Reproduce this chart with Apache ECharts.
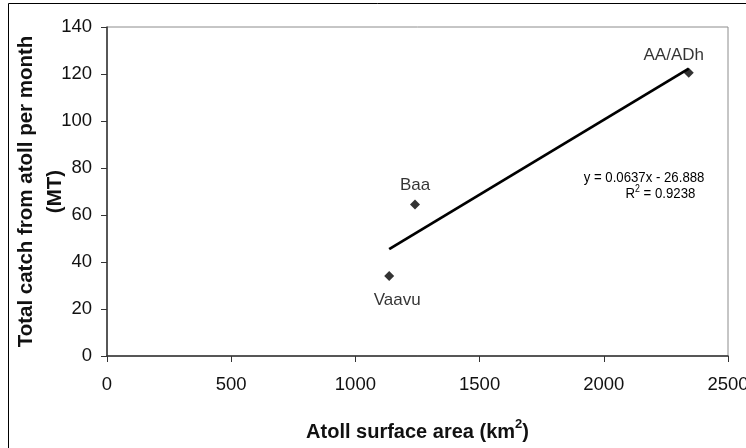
<!DOCTYPE html>
<html>
<head>
<meta charset="utf-8">
<script src="https://cdn.jsdelivr.net/npm/echarts@6/dist/echarts.min.js"></script>
<style>
  html, body { margin: 0; padding: 0; background: #fff; }
  #chart { width: 746px; height: 448px; }
</style>
</head>
<body>
<div id="chart"></div>
<script>
// Atoll surface area (km²) vs. total monthly catch (MT)
const atolls = ['Vaavu', 'Baa', 'AA/ADh'];
const surfaceArea = [1136, 1240, 2342];
const monthlyCatch = [34, 64.5, 120.5];

// Linear trendline reported for the data
const trendSlope = 0.0637;
const trendIntercept = -26.888;
const trendR2 = 0.9238;

const xTicks = [0, 500, 1000, 1500, 2000, 2500];
const yTicks = [0, 20, 40, 60, 80, 100, 120, 140];

// Anchors (in data units) for the trendline equation text
const equationAnchor = [2162, 75.6];
const r2Anchor = [2228, 69.4];

const FONT = 'Liberation Sans, Arial, sans-serif';

const labelPlacement = {
  'Vaavu': { position: 'bottom', distance: 11, offset: [8, 0] },
  'Baa': { position: 'top', distance: 6, offset: [0, 0] },
  'AA/ADh': { position: 'top', distance: 4, offset: [-15, 0] }
};

const points = atolls.map((name, i) => ({
  name: name,
  value: [surfaceArea[i], monthlyCatch[i]],
  label: Object.assign({ show: true, formatter: '{b}' }, labelPlacement[name])
}));

const xMin = Math.min(...surfaceArea);
const xMax = Math.max(...surfaceArea);
const trendLine = [xMin, xMax].map(x => [x, trendSlope * x + trendIntercept]);

const chart = echarts.init(document.getElementById('chart'), null, { renderer: 'canvas' });

chart.setOption({
  animation: false,
  textStyle: { fontFamily: FONT },
  grid: {
    left: 107, right: 18, top: 27, bottom: 92,
    outerBoundsMode: 'none', containLabel: false,
    show: true, borderColor: '#8c8c8c', borderWidth: 1
  },
  xAxis: {
    type: 'value',
    min: xTicks[0],
    max: xTicks[xTicks.length - 1],
    interval: xTicks[1] - xTicks[0],
    splitLine: { show: false },
    axisLine: { lineStyle: { color: '#333', width: 1.5 } },
    axisTick: { show: true, length: 6, lineStyle: { color: '#333' } },
    axisLabel: { color: '#111', fontSize: 18.5, margin: 19, fontFamily: FONT, formatter: v => String(v), hideOverlap: false },
    name: '{t|Atoll surface area (km}{s|2}{t|)}',
    nameLocation: 'middle',
    nameGap: 62,
    nameMoveOverlap: false,
    nameTextStyle: {
      rich: {
        t: { fontSize: 20, fontWeight: 'bold', color: '#111', fontFamily: FONT, lineHeight: 24, verticalAlign: 'bottom' },
        s: { fontSize: 13, fontWeight: 'bold', color: '#111', fontFamily: FONT, lineHeight: 24, verticalAlign: 'top' }
      }
    }
  },
  yAxis: {
    type: 'value',
    min: yTicks[0],
    max: yTicks[yTicks.length - 1],
    interval: yTicks[1] - yTicks[0],
    splitLine: { show: false },
    axisLine: { show: true, lineStyle: { color: '#333', width: 1.5 } },
    axisTick: { show: true, length: 6, lineStyle: { color: '#333' } },
    axisLabel: { color: '#111', fontSize: 18.5, margin: 15, fontFamily: FONT, formatter: v => String(v) },
    name: 'Total catch from atoll per month\n(MT)',
    nameLocation: 'middle',
    nameGap: 37,
    nameMoveOverlap: false,
    nameTextStyle: { fontSize: 20.5, fontWeight: 'bold', color: '#111', lineHeight: 29, fontFamily: FONT }
  },
  series: [
    {
      type: 'line',
      data: trendLine,
      symbol: 'none',
      lineStyle: { color: '#000', width: 2.8 },
      silent: true,
      z: 1
    },
    {
      type: 'scatter',
      data: points,
      symbol: 'diamond',
      symbolSize: [10, 10],
      itemStyle: { color: '#000' },
      label: { color: '#000', fontSize: 17, fontFamily: FONT },
      z: 3
    }
  ]
});

// Chart frame and trendline equation (placed from data coordinates)
const eqPos = chart.convertToPixel({ gridIndex: 0 }, equationAnchor);
const r2Pos = chart.convertToPixel({ gridIndex: 0 }, r2Anchor);
chart.setOption({
  graphic: [
    {
      type: 'rect',
      shape: { x: 8.5, y: 3.5, width: 800, height: 500 },
      style: { fill: 'none', stroke: '#000', lineWidth: 1 },
      silent: true
    },
    {
      type: 'text',
      x: eqPos[0], y: eqPos[1], scaleX: 0.88,
      style: {
        text: 'y = ' + trendSlope + 'x - ' + Math.abs(trendIntercept),
        fontSize: 15, fontFamily: FONT, fill: '#000', align: 'center', verticalAlign: 'middle'
      },
      silent: true
    },
    {
      type: 'text',
      x: r2Pos[0], y: r2Pos[1], scaleX: 0.88,
      style: {
        text: '{r|R}{s|2}{r| = ' + trendR2 + '}',
        align: 'center', verticalAlign: 'middle',
        rich: {
          r: { fontSize: 15, fontFamily: FONT, fill: '#000', lineHeight: 17, verticalAlign: 'bottom' },
          s: { fontSize: 10, fontFamily: FONT, fill: '#000', lineHeight: 17, verticalAlign: 'top' }
        }
      },
      silent: true
    }
  ]
});
</script>
</body>
</html>
